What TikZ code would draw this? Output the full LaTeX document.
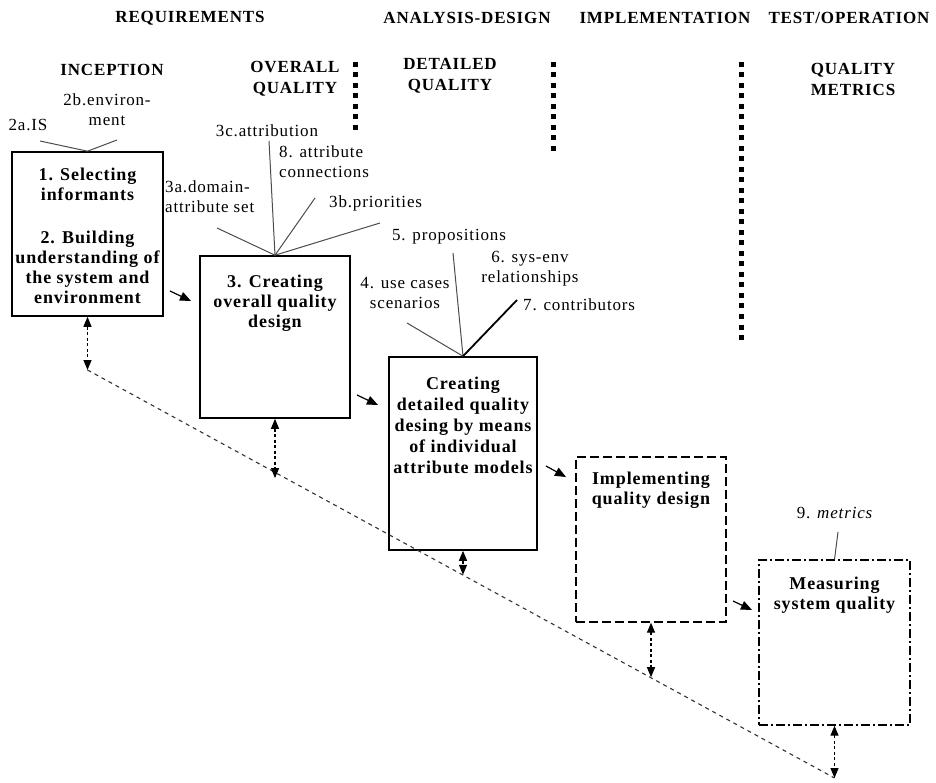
\documentclass[tikz,border=0pt]{standalone}
\usepackage{fontspec}
\setmainfont{Liberation Serif}[LetterSpace=5]
\usetikzlibrary{arrows.meta,positioning}

\begin{document}
\begin{tikzpicture}[x=1pt,y=-1pt,
    box/.style={draw,line width=1.6pt,inner sep=0pt},
    boxtext/.style={align=center,inner sep=0pt,font=\fontsize{18}{20}\selectfont\bfseries},
    head/.style={align=center,inner sep=0pt,font=\fontsize{17}{21}\selectfont\bfseries},
    lbl/.style={align=center,inner sep=1pt,font=\fontsize{17}{20}\selectfont},
    feed/.style={draw=black!70,line width=1pt},
    flow/.style={line width=1.2pt,-{Triangle[length=11pt,width=9pt]}},
    link/.style={line width=1.2pt,dash pattern=on 3pt off 2.5pt,
        {Triangle[length=10pt,width=8pt]}-{Triangle[length=10pt,width=8pt]}},
    wave/.style={line width=1.1pt,dash pattern=on 4pt off 4pt,black!80},
    sep/.style={line width=5pt,dash pattern=on 5pt off 5.5pt}]

    \useasboundingbox (0,0) rectangle (936,783);

    % Phase headings
    \node[head] (req)  at (190,18) {REQUIREMENTS};
    \node[head] (ana)  at (467,18) {ANALYSIS-DESIGN};
    \node[head] (impl) at (665,18) {IMPLEMENTATION};
    \node[head] (test) at (849,18) {TEST/OPERATION};

    \node[head] (incep)   at (112,70) {INCEPTION};
    \node[head] (overq)   at (295,79) {OVERALL\\QUALITY};
    \node[head] (detq)    at (450,76) {DETAILED\\QUALITY};
    \node[head] (metricq) at (853,79) {QUALITY\\METRICS};

    % Separators
    \foreach \x/\ya/\yb in {355/62/132, 553/62/155, 741/62/340}
        \draw[sep] (\x,\ya) -- (\x,\yb);

    % Boxes
    \node[box,minimum width=151pt,minimum height=164pt] (select) at (87.5,234) {};
    \node[box,minimum width=150pt,minimum height=162pt] (overall) at (275,337) {};
    \node[box,minimum width=148pt,minimum height=193pt] (detailed) at (463,453.5) {};
    \node[box,line width=1.4pt,dash pattern=on 9pt off 4pt,
        minimum width=150pt,minimum height=165pt] (implement) at (651,539.5) {};
    \node[box,line width=1.4pt,dash pattern=on 9pt off 3pt on 2pt off 3pt,
        minimum width=151pt,minimum height=165pt] (measure) at (834.5,642.5) {};

    \node[boxtext,below=17pt of select.north] {1. Selecting\\informants\\[23pt]2. Building\\understanding of\\the system and\\environment};
    \node[boxtext,below=20pt of overall.north] {3. Creating\\overall quality\\design};
    \node[boxtext,below=21pt of detailed.north,font=\fontsize{18}{21}\selectfont\bfseries]
        {Creating\\detailed quality\\desing by means\\of individual\\attribute models};
    \node[boxtext,below=16pt of implement.north] {Implementing\\quality design};
    \node[boxtext,below=18pt of measure.north] {Measuring\\system quality};

    % Inputs of step 1
    \node[lbl] (is)  at (28,125) {2a.IS};
    \node[lbl] (env) at (107,110) {2b.environ-\\ment};
    \coordinate (is-end)  at (40,141);
    \coordinate (env-end) at (117,140);
    \draw[feed] (is-end) -- (select.north);
    \draw[feed] (env-end) -- (select.north);

    % Inputs of step 3
    \node[lbl] (attrib) at (267,131) {3c.attribution};
    \node[lbl,anchor=west,align=left] (conn) at (278,162) {8. attribute\\connections};
    \node[lbl,anchor=west,align=left] (domain) at (164,197) {3a.domain-\\attribute set};
    \node[lbl,anchor=west] (prio) at (328,203) {3b.priorities};
    \coordinate (attrib-end) at (269,141);
    \coordinate (conn-end)   at (315,198);
    \coordinate (domain-end) at (217,228);
    \coordinate (prio-end)   at (380,223);
    \foreach \c in {attrib-end,conn-end,domain-end,prio-end}
        \draw[feed] (\c) -- (overall.north);

    % Inputs of the detailed design
    \node[lbl] (prop) at (449,237) {5. propositions};
    \node[lbl] (cases) at (405,293) {4. use cases\\scenarios};
    \node[lbl] (sysenv) at (530,269) {6. sys-env\\relationships};
    \node[lbl,anchor=west] (contrib) at (522,305) {7. contributors};
    \coordinate (prop-end)    at (453,253);
    \coordinate (cases-end)   at (407,323);
    \coordinate (contrib-end) at (517,300);
    \draw[feed] (prop-end) -- (detailed.north);
    \draw[feed] (cases-end) -- (detailed.north);
    \draw[feed,draw=black,line width=1.8pt] (contrib-end) -- (detailed.north);

    % Input of the measuring
    \node[lbl] (metrics) at (835,513) {9. \textit{metrics}};
    \coordinate (metrics-end) at (838,532);
    \draw[feed] (metrics-end) -- (measure.north);

    % Flow between the steps
    \coordinate (f1a) at (170,291); \coordinate (f1b) at (191,301);
    \coordinate (f2a) at (357,395); \coordinate (f2b) at (378,405);
    \coordinate (f3a) at (546,466); \coordinate (f3b) at (566,477);
    \coordinate (f4a) at (733,601); \coordinate (f4b) at (752,610);
    \foreach \i in {1,...,4}
        \draw[flow] (f\i a) -- (f\i b);

    % Feedback line
    \coordinate (w0) at (87.5,370);
    \coordinate (w1) at (834.5,778);
    \draw[wave] (w0) -- coordinate[pos=.265] (d3) coordinate[pos=.502] (d4)
        coordinate[pos=.753] (d5) (w1);
    \draw[link] (select.south) -- (w0);
    \draw[link] (overall.south) -- (overall.south |- d3);
    \draw[link] (detailed.south) -- (detailed.south |- d4);
    \draw[link] (implement.south) -- (implement.south |- d5);
    \draw[link] (measure.south) -- (w1);
\end{tikzpicture}
\end{document}
